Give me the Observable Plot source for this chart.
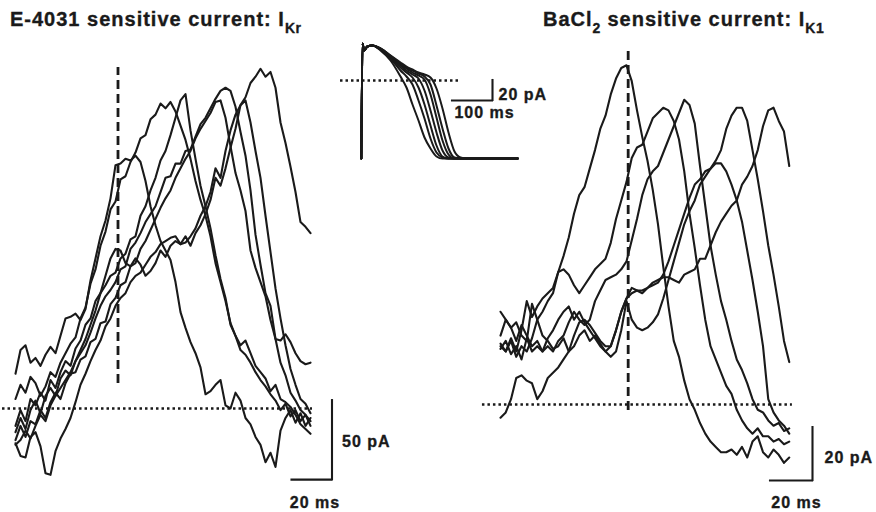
<!DOCTYPE html>
<html><head><meta charset="utf-8">
<script src="https://cdn.jsdelivr.net/npm/d3@7"></script>
<script src="https://cdn.jsdelivr.net/npm/@observablehq/plot@0.6"></script>
<style>
html,body{margin:0;padding:0;background:#fff;}
#chart{position:relative;width:876px;height:512px;overflow:hidden;font-family:"Liberation Sans",Arial,sans-serif;color:#1a1a1a;background:#fff;}
#chart svg{position:absolute;left:0;top:0;}
.title{position:absolute;font-weight:bold;font-size:20px;line-height:20px;letter-spacing:1px;white-space:nowrap;-webkit-text-stroke:0.35px #1a1a1a;}
.title .sub{font-size:14px;position:relative;top:7px;letter-spacing:0.5px;}
</style></head><body>
<div id="chart">
  <div class="title" style="left:10px;top:9px">E-4031 sensitive current: I<span class="sub">Kr</span></div>
  <div class="title" style="left:543px;top:9px">BaCl<span class="sub">2</span> sensitive current: I<span class="sub">K1</span></div>
</div>
<script>
// ================= DATA =================
// I_Kr (E-4031 sensitive) traces, pA, sampled every 2.5 ms
const ikrTimeStep = 2.5;
const ikrTrace1 = [22,37,40,29,32,27,34,39,35,46,57,58,60,56,63,81,95,109,119,133,154,155,158,157,160,156,144,128,116,106,100,94,80,61,51,42,35,26,9,11,15,18,2,0,10,5,-6,-10,-18,-23,-34,-28,-37,-14,-6,-1,-9,-3,-11,-6];
const ikrTrace2 = [6,15,10,20,16,8,14,23,20,29,35,41,45,57,64,79,88,103,112,126,131,145,147,156,162,171,173,183,186,193,190,194,188,179,170,158,144,132,122,109,92,80,68,54,46,37,34,29,23,18,14,9,5,-1,3,-5,-1,-8,-4,-11];
const ikrTrace3 = [-11,-1,-8,6,2,10,5,18,13,23,30,27,38,43,53,57,68,73,78,84,86,95,98,107,109,122,128,138,146,157,163,173,184,195,199,176,158,141,128,114,97,82,70,53,46,40,43,35,27,23,19,11,15,6,4,1,-4,-10,-13,-16];
const ikrTrace4 = [-15,-6,-13,-1,5,-3,8,13,8,19,24,21,30,35,40,48,57,65,71,75,80,88,90,101,105,111,118,123,128,137,146,147,155,155,163,164,172,180,184,190,196,201,203,201,191,175,160,138,110,91,73,65,44,29,21,10,5,-1,-4,-8];
const ikrTrace5 = [-20,-11,-18,-8,-10,-1,-6,4,10,6,16,22,23,31,33,42,44,54,55,66,70,78,80,90,92,101,106,113,120,127,133,138,146,152,158,163,171,177,182,187,194,195,184,166,149,138,125,100,89,80,71,56,44,43,47,42,35,30,28,29];
const ikrTrace6 = [-23,-20,-14,-19,-11,-4,-8,2,8,13,18,23,30,37,44,53,62,73,84,95,101,100,92,90,95,91,84,87,92,100,96,103,106,104,109,103,111,116,123,132,146,141,152,165,177,192,195,181,163,146,122,99,76,57,40,25,15,6,3,-3];
const ikrTrace7 = [-22,-30,-31,-18,-15,-24,-41,-42,-27,-19,-13,-6,4,15,22,30,37,43,52,57,65,70,73,80,84,86,91,96,99,104,106,108,109,104,105,109,114,122,128,137,152,146,163,176,186,192,197,206,210,215,210,213,203,181,168,153,137,118,115,111];

// I_K1 (BaCl2 sensitive) traces, pA, sampled every 2.5 ms
const ik1TimeStep = 2.5;
const ik1Trace1 = [23,20,25,20,28,39,33,37,40,42,44,50,56,63,72,79,82,89,96,104,109,117,123,127,128,122,111,101,92,81,68,52,37,24,18,9,2,-2,-7,-11,-14,-16,-18,-18,-17,-19,-16,-20,-14,-12,-18,-20,-17,-19,-22,-20];
const ik1Trace2 = [22,20,24,18,22,20,25,32,35,39,42,50,51,49,45,42,45,48,51,53,55,61,70,77,84,93,97,98,103,108,110,112,111,107,100,88,72,59,45,32,22,17,12,7,4,-2,-6,-9,-11,-9,-12,-12,-14,-13,-15,-14];
const ik1Trace3 = [26,32,29,24,30,26,22,24,20,22,20,24,26,31,35,32,30,32,39,43,47,48,49,51,54,62,70,79,85,88,90,95,100,105,110,115,113,106,90,75,60,49,39,32,24,17,13,8,2,-2,-3,-6,-8,-7,-10,-9];
const ik1Trace4 = [21,24,19,22,17,25,20,22,20,25,28,32,35,37,32,35,31,28,25,22,20,18,20,28,39,32,29,28,29,31,34,40,47,54,61,68,73,77,83,86,89,92,96,104,109,112,112,107,96,85,73,60,49,37,24,16];
const ik1Trace5 = [-5,-3,2,10,11,9,8,2,5,10,12,14,17,20,26,31,32,30,27,24,22,22,28,35,40,42,43,43,44,46,47,48,48,47,46,49,50,51,55,55,60,65,69,72,75,77,83,86,90,96,105,111,112,107,103,90];
const ik1Trace6 = [35,32,29,31,26,24,38,32,26,24,21,22,25,20,22,26,28,24,26,23,20,22,28,35,40,44,43,42,44,45,46,49,54,60,66,72,78,83,85,88,89,91,91,88,83,77,69,58,47,35,22,2,-3,-6,-8,-11];

// Inset: action potential clamp waveforms (ms, mV)
const apTimes = [-3,0,4,12,25,45,70,95,110,125,140,155,170,185,200,215,230,245,260,280,388];
const ap1 = [-78,37,30,34,35,30,20,4,-7,-24,-40,-57,-68,-76,-78,-78,-78,-78,-78,-78,-78];
const ap2 = [-78,37,30,34,35,31,22,10,4,-4,-20,-38,-58,-72,-77,-78,-78,-78,-78,-78,-78];
const ap3 = [-78,37,30,34,35,31,23,13,8,3,-7,-24,-45,-65,-76,-78,-78,-78,-78,-78,-78];
const ap4 = [-78,37,30,34,35,31,24,15,10,6,2,-10,-30,-52,-70,-77,-78,-78,-78,-78,-78];
const ap5 = [-78,37,30,34,35,32,24,16,12,8,5,1,-14,-37,-60,-74,-78,-78,-78,-78,-78];
const ap6 = [-78,37,30,34,35,32,25,17,13,10,7,4,-4,-25,-48,-68,-77,-78,-78,-78,-78];
const ap7 = [-78,37,30,34,35,32,25,18,14,11,8,6,3,-8,-28,-52,-71,-77,-78,-78,-78];

// Scale bars
const ikrScaleBar = {ms: 20, pA: 50};
const ik1ScaleBar = {ms: 20, pA: 20};
const apScaleBar = {ms: 100, pA: 20};

// Reference lines (time of dashed marker, range of dotted zero line)
const ikrMarker = {t: 51.25, from: 15.8, to: 215.8};
const ikrZero = {from: -6.5, to: 148.5};
const ik1Marker = {t: 60.8, from: -2.3, to: 134.3};
const ik1Zero = {from: -8.6, to: 139};
const apZero = {from: -55, to: 245};

// ================= LAYOUT =================
const W = 876, H = 512;
const INK = "#1a1a1a";
const ikrFrame = {x0: 15, pxPerMs: 2, y0: 408, pxPerUnit: 1.58, bar: {t: 158.25, v: -45}, lab: {vdx: 10, vdy: 1.5, hdx: 3, hdy: 23}};
const ik1Frame = {x0: 500, pxPerMs: 2.1, y0: 404, pxPerUnit: 2.65, bar: {t: 148.57, v: -28.7}, lab: {vdx: 12, vdy: 3.5, hdx: 5, hdy: 22.5}};
const apFrame = {x0: 362, pxPerMs: 0.4, y0: 80, pxPerUnit: 1, bar: {t: 325, v: -20}, lab: {vdx: 6, vdy: 4, hdx: 12, hdy: 12.5}};

function xDomain(f) { return [-f.x0 / f.pxPerMs, (W - f.x0) / f.pxPerMs]; }
function yDomain(f) { return [(f.y0 - H) / f.pxPerUnit, f.y0 / f.pxPerUnit]; }

function sampled(traces, dt) {
  return traces.flatMap(([name, vals]) => vals.map((v, i) => ({trace: name, t: i * dt, v})));
}
function onGrid(traces, times) {
  return traces.flatMap(([name, vals]) => vals.map((v, i) => ({trace: name, t: times[i], v})));
}

const font = {fontSize: 16, fontWeight: "bold", fill: INK, stroke: INK, strokeWidth: 0.35};
function scaleBarMarks(bar, f) {
  const d = [{...bar, ...f.bar}];
  return [
    Plot.ruleX(d, {x: "t", y1: "v", y2: d => d.v + d.pA, stroke: INK, strokeWidth: 2.1, strokeLinecap: "square"}),
    Plot.ruleY(d, {y: "v", x1: d => d.t - d.ms, x2: "t", stroke: INK, strokeWidth: 2.1, strokeLinecap: "square"}),
    Plot.text(d, {x: "t", y: d => d.v + d.pA / 2, text: d => `${d.pA} pA`, textAnchor: "start", dx: f.lab.vdx, dy: f.lab.vdy, ...font}),
    Plot.text(d, {x: d => d.t - d.ms / 2, y: "v", text: d => `${d.ms} ms`, dx: f.lab.hdx, dy: f.lab.hdy, ...font})
  ];
}

const svgStyle = "background:transparent;overflow:visible;font-family:'Liberation Sans',Arial,sans-serif;letter-spacing:1px;";

function base(f, marks) {
  return Plot.plot({
    width: W, height: H, margin: 0,
    x: {domain: xDomain(f), axis: null},
    y: {domain: yDomain(f), axis: null},
    style: svgStyle,
    marks
  });
}

// ---- I_Kr panel ----
const ikrData = sampled([
  ["1", ikrTrace1], ["2", ikrTrace2], ["3", ikrTrace3], ["4", ikrTrace4],
  ["5", ikrTrace5], ["6", ikrTrace6], ["7", ikrTrace7]
], ikrTimeStep);

const ikrPlot = base(ikrFrame, [
  Plot.ruleY([ikrZero], {y: () => 0, x1: "from", x2: "to", stroke: INK, strokeWidth: 2.5, strokeDasharray: "2.5,3"}),
  Plot.ruleX([ikrMarker], {x: "t", y1: "from", y2: "to", stroke: INK, strokeWidth: 2.8, strokeDasharray: "9,5"}),
  Plot.line(ikrData, {x: "t", y: "v", z: "trace", stroke: INK, strokeWidth: 2.1}),
  ...scaleBarMarks(ikrScaleBar, ikrFrame)
]);

// ---- I_K1 panel ----
const ik1Data = sampled([
  ["1", ik1Trace1], ["2", ik1Trace2], ["3", ik1Trace3],
  ["4", ik1Trace4], ["5", ik1Trace5], ["6", ik1Trace6]
], ik1TimeStep);

const ik1Plot = base(ik1Frame, [
  Plot.ruleY([ik1Zero], {y: () => 0, x1: "from", x2: "to", stroke: INK, strokeWidth: 2.5, strokeDasharray: "2.5,3"}),
  Plot.ruleX([ik1Marker], {x: "t", y1: "from", y2: "to", stroke: INK, strokeWidth: 2.8, strokeDasharray: "9,5"}),
  Plot.line(ik1Data, {x: "t", y: "v", z: "trace", stroke: INK, strokeWidth: 2.1}),
  ...scaleBarMarks(ik1ScaleBar, ik1Frame)
]);

// ---- AP inset ----
const apData = onGrid([
  ["1", ap1], ["2", ap2], ["3", ap3], ["4", ap4], ["5", ap5], ["6", ap6], ["7", ap7]
], apTimes);

const apPlot = base(apFrame, [
  Plot.ruleY([apZero], {y: () => 0, x1: "from", x2: "to", stroke: INK, strokeWidth: 2.3, strokeDasharray: "2.5,3"}),
  Plot.line(apData, {x: "t", y: "v", z: "trace", stroke: INK, strokeWidth: 2, curve: "monotone-x"}),
  ...scaleBarMarks(apScaleBar, apFrame)
]);

const chart = document.getElementById("chart");
chart.append(ikrPlot, ik1Plot, apPlot);
</script>
</body></html>
